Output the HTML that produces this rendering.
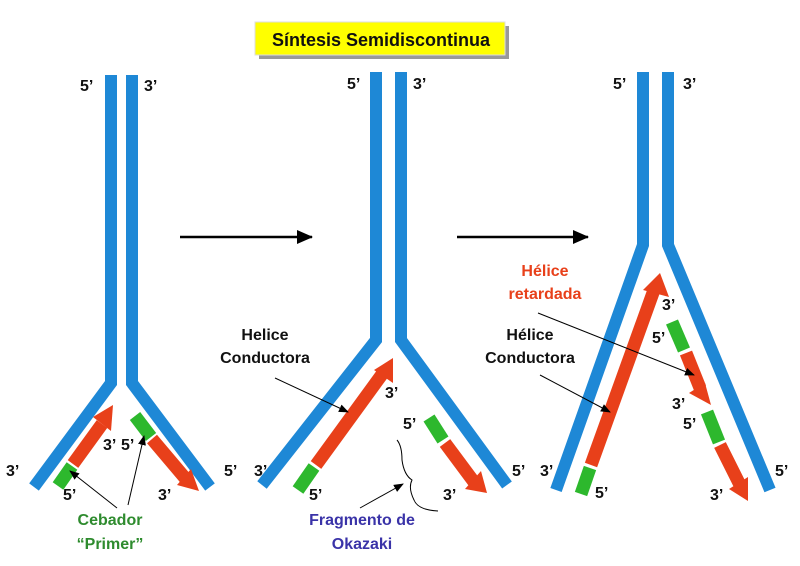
<!DOCTYPE html>
<html><head><style>
html,body{margin:0;padding:0;background:#fff;width:800px;height:566px;overflow:hidden}
svg text{font-family:"Liberation Sans",Arial,sans-serif;font-weight:bold}
</style></head><body>
<svg width="800" height="566" viewBox="0 0 800 566" xmlns="http://www.w3.org/2000/svg">
<defs>
<marker id="ah" markerWidth="10" markerHeight="8" refX="9" refY="4" orient="auto" markerUnits="userSpaceOnUse"><path d="M0,0 L10,4 L0,8 Z" fill="#000"/></marker>
<marker id="big" markerWidth="16" markerHeight="14" refX="15" refY="7" orient="auto" markerUnits="userSpaceOnUse"><path d="M0,0 L16,7 L0,14 Z" fill="#000"/></marker>
</defs>
<rect x="259" y="26" width="250" height="33" fill="#999"/>
<rect x="255" y="22" width="250" height="33" fill="#ffff00" stroke="#ddd" stroke-width="1"/>
<text x="381" y="46" text-anchor="middle" font-size="18" fill="#111">Síntesis Semidiscontinua</text>
<line x1="180" y1="237" x2="312" y2="237" stroke="#000" stroke-width="2.5" marker-end="url(#big)"/>
<line x1="457" y1="237" x2="588" y2="237" stroke="#000" stroke-width="2.5" marker-end="url(#big)"/>
<g fill="none" stroke="#1e88d6" stroke-width="12" stroke-linejoin="miter">
<polyline points="111,75 111,383 34,487"/>
<polyline points="132,75 132,383 210,487"/>
<polyline points="376,72 376,340 262,485"/>
<polyline points="401,72 401,340 507,485"/>
<polyline points="643,72 643,245 556,490"/>
<polyline points="668,72 668,245 770,490"/>
</g>
<g stroke-width="13" fill="none">
<line x1="58" y1="486" x2="72" y2="466" stroke="#2db82d"/>
<line x1="73" y1="464" x2="102" y2="424" stroke="#e8401a"/>
<line x1="135" y1="416" x2="151" y2="437" stroke="#2db82d"/>
<line x1="152" y1="439" x2="185" y2="478" stroke="#e8401a"/>
<line x1="298" y1="490" x2="314" y2="467" stroke="#2db82d"/>
<line x1="316" y1="465" x2="383" y2="373" stroke="#e8401a"/>
<line x1="429" y1="418" x2="443" y2="440" stroke="#2db82d"/>
<line x1="445" y1="443" x2="474" y2="482" stroke="#e8401a"/>
<line x1="581" y1="494" x2="590" y2="468" stroke="#2db82d"/>
<line x1="591" y1="465" x2="654" y2="290" stroke="#e8401a"/>
<line x1="672" y1="322" x2="684" y2="350" stroke="#2db82d"/>
<line x1="686" y1="353" x2="700" y2="388" stroke="#e8401a"/>
<line x1="707" y1="412" x2="719" y2="442" stroke="#2db82d"/>
<line x1="720" y1="445" x2="740" y2="485" stroke="#e8401a"/>
</g>
<g fill="#e8401a">
<polygon points="93,417 113,405 111,431"/>
<polygon points="177,485 199,491 191,469"/>
<polygon points="374,370 393,358 393,383"/>
<polygon points="465,489 487,493 481,471"/>
<polygon points="643,290 660,273 669,297"/>
<polygon points="689,393 711,405 705,383"/>
<polygon points="729,489 748,501 748,477"/>
</g>
<g stroke="#000" stroke-width="1" fill="none">
<line x1="117" y1="508" x2="70" y2="471" marker-end="url(#ah)"/>
<line x1="128" y1="505" x2="144" y2="436" marker-end="url(#ah)"/>
<line x1="275" y1="378" x2="348" y2="412" marker-end="url(#ah)"/>
<line x1="360" y1="508" x2="403" y2="484" marker-end="url(#ah)"/>
<path d="M397,440 Q402,446 402,460 Q404,475 412,480 Q408,488 414,500 Q418,510 438,511"/>
<line x1="540" y1="375" x2="610" y2="412" marker-end="url(#ah)"/>
<line x1="538" y1="313" x2="694" y2="375" marker-end="url(#ah)"/>
</g>
<g font-size="16" fill="#111">
<text x="80" y="91">5’</text><text x="144" y="91">3’</text>
<text x="347" y="89">5’</text><text x="413" y="89">3’</text>
<text x="613" y="89">5’</text><text x="683" y="89">3’</text>
<text x="6" y="476">3’</text><text x="63" y="500">5’</text>
<text x="103" y="450">3’</text><text x="121" y="450">5’</text>
<text x="158" y="500">3’</text><text x="224" y="476">5’</text>
<text x="254" y="476">3’</text><text x="309" y="500">5’</text>
<text x="385" y="398">3’</text><text x="403" y="429">5’</text>
<text x="443" y="500">3’</text><text x="512" y="476">5’</text>
<text x="540" y="476">3’</text><text x="595" y="498">5’</text>
<text x="662" y="310">3’</text><text x="652" y="343">5’</text>
<text x="672" y="409">3’</text><text x="683" y="429">5’</text>
<text x="710" y="500">3’</text><text x="775" y="476">5’</text>
</g>
<g font-size="16" text-anchor="middle">
<text x="265" y="340" fill="#111">Helice</text>
<text x="265" y="363" fill="#111">Conductora</text>
<text x="110" y="525" fill="#2e8b2e">Cebador</text>
<text x="110" y="549" fill="#2e8b2e">“Primer”</text>
<text x="362" y="525" fill="#3a33a8">Fragmento de</text>
<text x="362" y="549" fill="#3a33a8">Okazaki</text>
<text x="545" y="276" fill="#e8401a">Hélice</text>
<text x="545" y="299" fill="#e8401a">retardada</text>
<text x="530" y="340" fill="#111">Hélice</text>
<text x="530" y="363" fill="#111">Conductora</text>
</g>
</svg>
</body></html>
